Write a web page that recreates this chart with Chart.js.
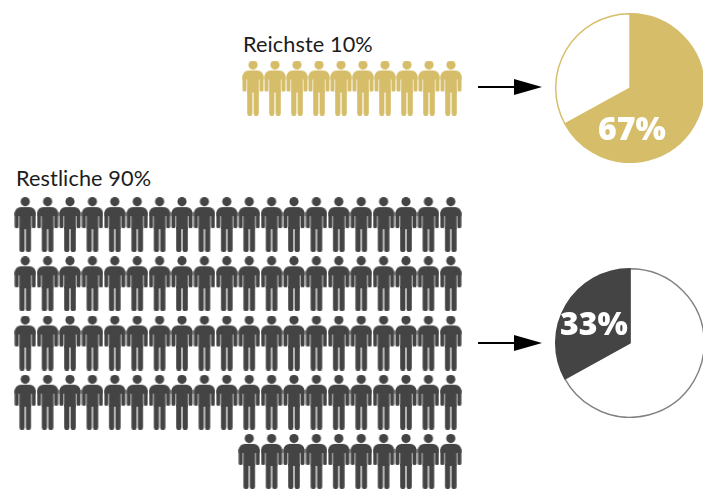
<!DOCTYPE html>
<html lang="de">
<head>
<meta charset="utf-8">
<title>Reichste 10%</title>
<script src="https://cdn.jsdelivr.net/npm/chart.js@4"></script>
<style>
  html, body { margin: 0; background: #fff; width: 703px; height: 491px; overflow: hidden; }
  .box { position: absolute; }
  .group-label { position: absolute; font: 400 21.7px "Lato", sans-serif; color: #1c1c1c; white-space: nowrap; line-height: 24px; letter-spacing: 0.1px; }
  svg.arrow { position: absolute; left: 478px; width: 64px; height: 16px; }
</style>
</head>
<body>
<div class="group-label" style="left:243px;top:32px" id="richLabel"></div>
<div class="box" style="left:242px;top:58px;width:220px;height:60px"><canvas id="richPeople"></canvas></div>
<svg class="arrow" style="top:79px" viewBox="0 0 64 16"><path d="M0 7h36V0l28 8-28 8V9H0z"/></svg>
<div class="box" style="left:555px;top:13px;width:150px;height:150px"><canvas id="richPie"></canvas></div>

<div class="group-label" style="left:16px;top:166px" id="restLabel"></div>
<div class="box" style="left:14px;top:195px;width:448px;height:296px"><canvas id="restPeople"></canvas></div>
<svg class="arrow" style="top:335px" viewBox="0 0 64 16"><path d="M0 7h36V0l28 8-28 8V9H0z"/></svg>
<div class="box" style="left:555px;top:268px;width:150px;height:150px"><canvas id="restPie"></canvas></div>

<script>
const groupNames = ['Reichste 10%', 'Restliche 90%'];
const richRowCounts = [10];
const restRowCounts = [20, 20, 20, 20, 10];
const richShare = [67, 33];
const restShare = [67, 33];

const gold = '#d6bd69';
const dark = '#444444';

document.getElementById('richLabel').textContent = groupNames[0];
document.getElementById('restLabel').textContent = groupNames[1];

// Little figure used as the point style of the scatter charts
function personIcon(color) {
    const c = document.createElement('canvas');
    c.width = 22;
    c.height = 55;
    const g = c.getContext('2d');
    g.fillStyle = color;
    g.beginPath();
    g.arc(11, 4.6, 4.6, 0, Math.PI * 2);
    g.fill();
    // shoulders and arms
    g.beginPath();
    g.roundRect(0.5, 10, 21, 9, [6, 6, 0, 0]);
    g.fill();
    g.beginPath();
    g.roundRect(0.5, 15, 4, 16, [0, 0, 1.5, 1.5]);
    g.roundRect(17.5, 15, 4, 16, [0, 0, 1.5, 1.5]);
    g.fill();
    // torso
    g.fillRect(5.2, 14, 11.6, 18);
    // legs
    g.beginPath();
    g.roundRect(5.2, 30, 5.2, 25, [0, 0, 2, 2]);
    g.roundRect(11.6, 30, 5.2, 25, [0, 0, 2, 2]);
    g.fill();
    return c;
}

// Rows are right aligned, so a short row starts further in
function peoplePoints(rowCounts) {
    const columns = Math.max(...rowCounts);
    const points = [];
    rowCounts.forEach((count, row) => {
        for (let i = 0; i < count; i++) {
            points.push({ x: columns - i, y: row + 1 });
        }
    });
    return points;
}

function createPeopleChart(id, rowCounts, color, width, height) {
    const canvas = document.getElementById(id);
    canvas.width = width;
    canvas.height = height;
    return new Chart(canvas, {
        type: 'scatter',
        data: {
            datasets: [{
                data: peoplePoints(rowCounts),
                pointStyle: personIcon(color),
                clip: false
            }]
        },
        options: {
            responsive: false,
            animation: false,
            events: [],
            layout: { padding: 0, autoPadding: false },
            plugins: { legend: { display: false }, tooltip: { enabled: false } },
            scales: {
                x: { display: false, min: 0.5, max: Math.max(...rowCounts) + 0.5 },
                y: { display: false, reverse: true, min: 0.5, max: rowCounts.length + 0.5 }
            }
        }
    });
}

// Writes the share of one slice on top of the pie
const shareLabel = {
    id: 'shareLabel',
    afterDatasetsDraw(chart, args, opts) {
        const arc = chart.getDatasetMeta(0).data[opts.index];
        const value = chart.data.datasets[0].data[opts.index];
        const ctx = chart.ctx;
        const text = value + '%';
        ctx.save();
        ctx.font = '800 32px "Open Sans", sans-serif';
        ctx.fillStyle = '#fff';
        ctx.textAlign = 'center';
        ctx.textBaseline = 'middle';
        ctx.fillText(text, arc.x + opts.dx, arc.y + opts.dy);
        ctx.restore();
    }
};

function createPie(id, values, colors, border, label) {
    const canvas = document.getElementById(id);
    canvas.width = 150;
    canvas.height = 150;
    return new Chart(canvas, {
        type: 'pie',
        data: {
            datasets: [{
                data: values,
                backgroundColor: colors,
                borderColor: border,
                borderWidth: 1.4
            }]
        },
        options: {
            responsive: false,
            animation: false,
            events: [],
            plugins: {
                legend: { display: false },
                tooltip: { enabled: false },
                shareLabel: label
            }
        },
        plugins: [shareLabel]
    });
}

createPeopleChart('richPeople', richRowCounts, gold, 220, 60);
createPeopleChart('restPeople', restRowCounts, dark, 448, 296);
createPie('richPie', richShare, [gold, '#ffffff'], [gold, gold], { index: 0, dx: 2, dy: 43 });
createPie('restPie', restShare, ['#ffffff', dark], ['#808080', dark], { index: 1, dx: -36, dy: -17 });
</script>
</body>
</html>
